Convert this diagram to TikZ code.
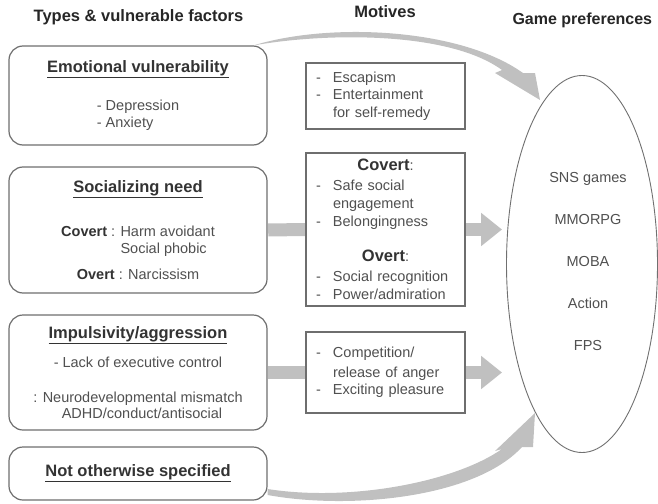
\documentclass[tikz,border=0pt]{standalone}
\usepackage{fontspec}
\setmainfont{Liberation Sans}
\usetikzlibrary{arrows.meta, shapes.geometric}

\definecolor{framegray}{HTML}{6E6E6E}
\definecolor{ellgray}{HTML}{707070}
\definecolor{arrowgray}{HTML}{C0C0C0}
\definecolor{txtgray}{HTML}{505050}
\definecolor{titlegray}{HTML}{333333}
\definecolor{headgray}{HTML}{262626}

\newcommand{\bodyfont}{\fontsize{14.5}{17.5}\selectfont}
\newcommand{\headfont}{\fontsize{16.5}{19}\selectfont\bfseries}
\newcommand{\ftitle}[1]{\textcolor{titlegray}{\headfont\underline{#1}}}
\newcommand{\dashitem}{\makebox[18pt][l]{\hspace{1pt}-}}
\newcommand{\contitem}{\hspace*{18pt}}

\begin{document}
\begin{tikzpicture}[x=1pt,y=-1pt,
  factor/.style={draw=framegray, line width=1.2pt, rounded corners=14pt, fill=white,
    minimum width=258pt, inner sep=0pt, align=center, text=txtgray, font=\bodyfont},
  motive/.style={draw=framegray, line width=1.1pt, fill=white, minimum width=159pt,
    text width=141pt, inner xsep=9pt, inner ysep=0pt, align=left, text=txtgray, font=\bodyfont},
  heading/.style={font=\headfont, text=headgray, anchor=base},
  stem/.style={draw=arrowgray, line width=13pt},
  blockarrow/.style={stem, -{Triangle[length=21pt,width=32pt]}, shorten <=0.6pt, shorten >=4pt},
  bendarrow/.style={fill=arrowgray}]

\useasboundingbox (0,0) rectangle (658,503);

% column headings
\node[heading] (hfac) at (138.5,22) {Types \& vulnerable factors};
\node[heading] (hmot) at (385,18) {Motives};
\node[heading, anchor=base west, font=\fontsize{16}{19}\selectfont\bfseries] (hgame) at (509,25) {Game preferences};

% types & vulnerable factors
\node[factor, minimum height=99pt] (emo) at (138,95.5) {\ftitle{Emotional vulnerability}\\[20.5pt]
  - Depression\\ \rlap{- Anxiety}\hphantom{- Depression}};
\node[factor, minimum height=126pt] (soc) at (138,230) {\ftitle{Socializing need}\\[26.5pt]
  \textcolor{titlegray}{\bfseries Covert} : Harm avoidant\\
  \hphantom{\textbf{Covert} : }\rlap{Social phobic}\hphantom{Harm avoidant}\\[8.5pt]
  \textcolor{titlegray}{\bfseries Overt} : Narcissism};
\node[factor, minimum height=115pt] (imp) at (138,372.5) {\ftitle{Impulsivity/aggression}\\[11.5pt]
  - Lack of executive control\\[17.5pt]
  : Neurodevelopmental mismatch\\[-1.5pt]
  \hspace*{8pt}ADHD/conduct/antisocial};
\node[factor, minimum height=53pt] (nos) at (138,473.5) {\ftitle{Not otherwise specified}};

% motives
\node[motive, minimum height=66pt] (esc) at (385.5,96) {\dashitem Escapism\\
  \dashitem Entertainment\\ \contitem for self-remedy};
\node[motive, minimum height=153pt] (cov) at (385.5,229.5) {\makebox[141pt]{\textcolor{titlegray}{\headfont Covert}:}\\[2.5pt]
  \dashitem Safe social\\ \contitem engagement\\[1pt] \dashitem Belongingness\\[17.5pt]
  \makebox[141pt]{\textcolor{titlegray}{\headfont Overt}:}\\[2.5pt]
  \dashitem Social recognition\\ \dashitem Power/admiration};
\node[motive, minimum height=81pt] (comp) at (385.5,372.5) {\dashitem Competition/\\[2pt]
  \contitem release of anger\\ \dashitem Exciting pleasure};

% game preferences
\node[draw=ellgray, line width=0.9pt, ellipse, minimum width=151pt, minimum height=377pt, inner sep=0pt] (games) at (582,264) {};
\node[text=txtgray, font=\bodyfont, align=center] (gamelist) at ([xshift=6pt,yshift=2.5pt]games.center)
  {SNS games\\[24.5pt] MMORPG\\[24.5pt] MOBA\\[24.5pt] Action\\[24.5pt] FPS};

% arrows
\draw[stem, shorten <=0.6pt, shorten >=0.6pt] (soc.east) -- (cov.west);
\draw[stem, shorten <=0.6pt, shorten >=0.6pt] (imp.east) -- (comp.west);
\draw[blockarrow] (cov.east) -- (cov.east -| games.west);
\draw[blockarrow] (comp.east) -- (comp.east -| games.west);

\fill[bendarrow] ([xshift=-14pt]emo.north east) .. controls (330,22) and (460,28) .. (523,73)
  -- (535,73) -- (540,100) -- (495,73) -- (502,70)
  .. controls (450,32) and (330,32) .. ([xshift=-14pt]emo.north east) -- cycle;
\fill[bendarrow] ([yshift=-15.5pt]nos.east) .. controls (350,502) and (455,482) .. (502,449)
  -- (495,451) -- (535,413) -- (533,447) -- (522,447)
  .. controls (475,498) and (350,510) .. ([yshift=-21.5pt]nos.east) -- cycle;
\end{tikzpicture}
\end{document}
